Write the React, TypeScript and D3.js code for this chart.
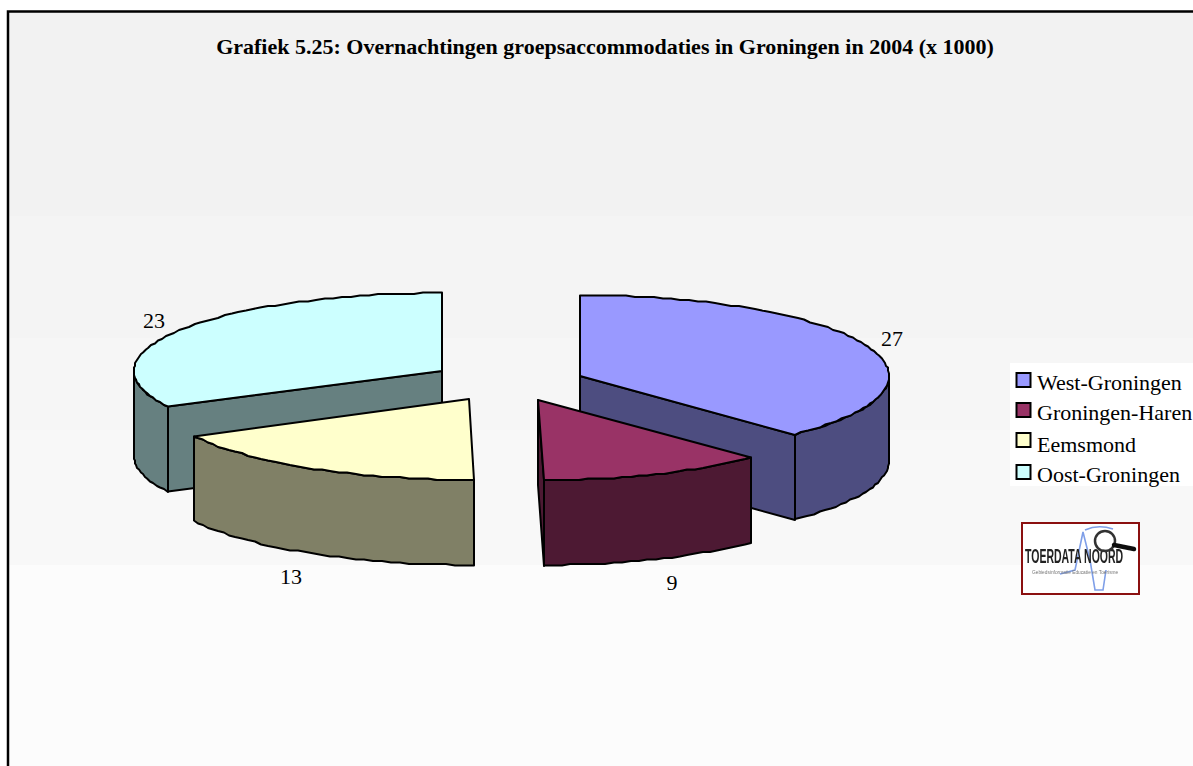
import React from "react";
import * as d3 from "d3";

const categories = ["West-Groningen", "Groningen-Haren", "Eemsmond", "Oost-Groningen"];
const values = [27.2, 8.8, 12.56, 23.44];
const topColors = ["#9999ff", "#993366", "#ffffcc", "#ccffff"];
const sideColors = ["#4d4d80", "#4d1933", "#808066", "#668080"];
const title = "Grafiek 5.25: Overnachtingen groepsaccommodaties in Groningen in 2004 (x 1000)";

// layout of each exploded slice: arc centre, radius, apex shift, label anchor
const layout = [
  { cx: 580, cy: 376, rx: 309, ry: 81, apexDx: 0, lx: 892, ly: 346 },
  { cx: 544, cy: 400, rx: 298, ry: 80, apexDx: -6, lx: 672, ly: 590 },
  { cx: 474, cy: 399, rx: 315, ry: 81, apexDx: -5, lx: 291, ly: 584 },
  { cx: 442, cy: 371, rx: 308, ry: 78, apexDx: 0, lx: 154, ly: 328 },
];
const depth = 85;
const fmt = d3.format(".0f");

const pie = d3.pie<number>().sort(null).startAngle(0).endAngle(2 * Math.PI);
const arcs = pie(values);
const line = d3.line();

function arcPts(i: number, a0: number, a1: number, dy = 0): [number, number][] {
  const l = layout[i];
  const n = Math.max(2, Math.round(Math.abs(a1 - a0) / 0.03));
  const t = d3.scaleLinear().domain([0, n]).range([a0, a1]);
  return d3.range(n + 1).map((k) => [
    Math.round(l.cx + l.rx * Math.sin(t(k))),
    Math.round((l.cy - l.ry * Math.cos(t(k)) + dy) / 1.5) * 1.5,
  ] as [number, number]);
}

function Slice({ i }: { i: number }) {
  const l = layout[i];
  const { startAngle: a0, endAngle: a1 } = arcs[i];
  const apex: [number, number] = [l.cx + l.apexDx, l.cy];
  const top = arcPts(i, a0, a1);
  const stroke = { stroke: "#000", strokeWidth: 2, strokeLinejoin: "round" as const };
  const lo = Math.max(a0, Math.PI / 2);
  const hi = Math.min(a1, (3 * Math.PI) / 2);
  const wall = hi > lo ? [...arcPts(i, lo, hi), ...arcPts(i, hi, lo, depth)] : [];
  const first = top[0];
  const last = top[top.length - 1];
  let cut: [number, number][] = [];
  if (i === 0) cut = [apex, last, [last[0], last[1] + depth], [apex[0], apex[1] + depth]];
  if (i === 3) cut = [apex, first, [first[0], first[1] + depth], [apex[0], apex[1] + depth]];
  // the thin dark sliver on the left of Groningen-Haren
  if (i === 1) cut = [apex, last, [last[0], last[1] + depth + 1], [apex[0], apex[1] + depth]];
  return (
    <g>
      {cut.length > 0 && <path d={(line(cut) || "") + "Z"} fill={sideColors[i]} {...stroke} />}
      {wall.length > 0 && <path d={(line(wall) || "") + "Z"} fill={sideColors[i]} {...stroke} />}
      <path d={(line([apex, ...top]) || "") + "Z"} fill={topColors[i]} {...stroke} />
      <text x={l.lx} y={l.ly} textAnchor="middle" fontSize={22} fontFamily="Liberation Serif" fill="#000">
        {fmt(values[i])}
      </text>
    </g>
  );
}

const bandY = [12, 216, 338, 430, 565, 766];
const bandFill = ["#f2f2f2", "#f4f4f4", "#f6f6f6", "#f8f8f8", "#fcfcfc"];
const swatchTop = [373, 403, 433, 465];
const legendTextY = [390, 420, 452, 482];

export default function App() {
  return (
    <svg width={1193} height={766} style={{ position: "absolute", left: 0, top: 0 }}>
      <defs>
        <filter id="soft" x="-5%" y="-5%" width="110%" height="110%">
          <feGaussianBlur stdDeviation="0.7" />
        </filter>
      </defs>
      <rect width={1193} height={766} fill="#fff" />
      {bandFill.map((f, i) => (
        <rect key={f} x={9} y={bandY[i]} width={1184} height={bandY[i + 1] - bandY[i]} fill={f} />
      ))}
      <path d="M8,766V11.5H1193" fill="none" stroke="#000" strokeWidth={2.5} />
      <text x={605} y={54} textAnchor="middle" fontSize={22} fontWeight="bold" fontFamily="Liberation Serif" fill="#000">
        {title}
      </text>
      {[3, 0, 2, 1].map((i) => (
        <Slice key={i} i={i} />
      ))}
      <rect x={1010} y={363} width={183} height={123} fill="#fff" />
      {categories.map((c, i) => (
        <g key={c}>
          <rect x={1016.5} y={swatchTop[i]} width={14} height={14} fill={topColors[i]} stroke="#000" strokeWidth={2} />
          <text x={1037} y={legendTextY[i]} fontSize={22} fontFamily="Liberation Serif" fill="#000">
            {c}
          </text>
        </g>
      ))}
      <rect x={1022} y={523} width={117} height={71} fill="#fff" stroke="#8b1010" strokeWidth={2} />
      <g filter="url(#soft)">
        <path d="M1060,574L1075,570L1083,532L1090,560L1095,590L1103,590L1106,570M1085,530Q1098,524 1113,529" fill="none" stroke="#7f9fe8" strokeWidth={1.6} />
        <g transform="translate(1025,563) scale(0.5,1)">
          <text x={0} y={0} fontSize={21} fontWeight="bold" fontFamily="Liberation Sans" fill="#222">
            TOERDATA NOORD
          </text>
        </g>
        <g transform="translate(1032,574) scale(0.8,1)">
          <text x={0} y={0} fontSize={6} fontFamily="Liberation Sans" fill="#777">
            Gebiedsinformatie Educatie en Toerisme
          </text>
        </g>
        <circle cx={1105} cy={541} r={10} fill="#fff" fillOpacity={0.7} stroke="#333" strokeWidth={2.5} />
        <path d="M1114,545L1134,549" stroke="#111" strokeWidth={4.5} strokeLinecap="round" />
      </g>
    </svg>
  );
}
